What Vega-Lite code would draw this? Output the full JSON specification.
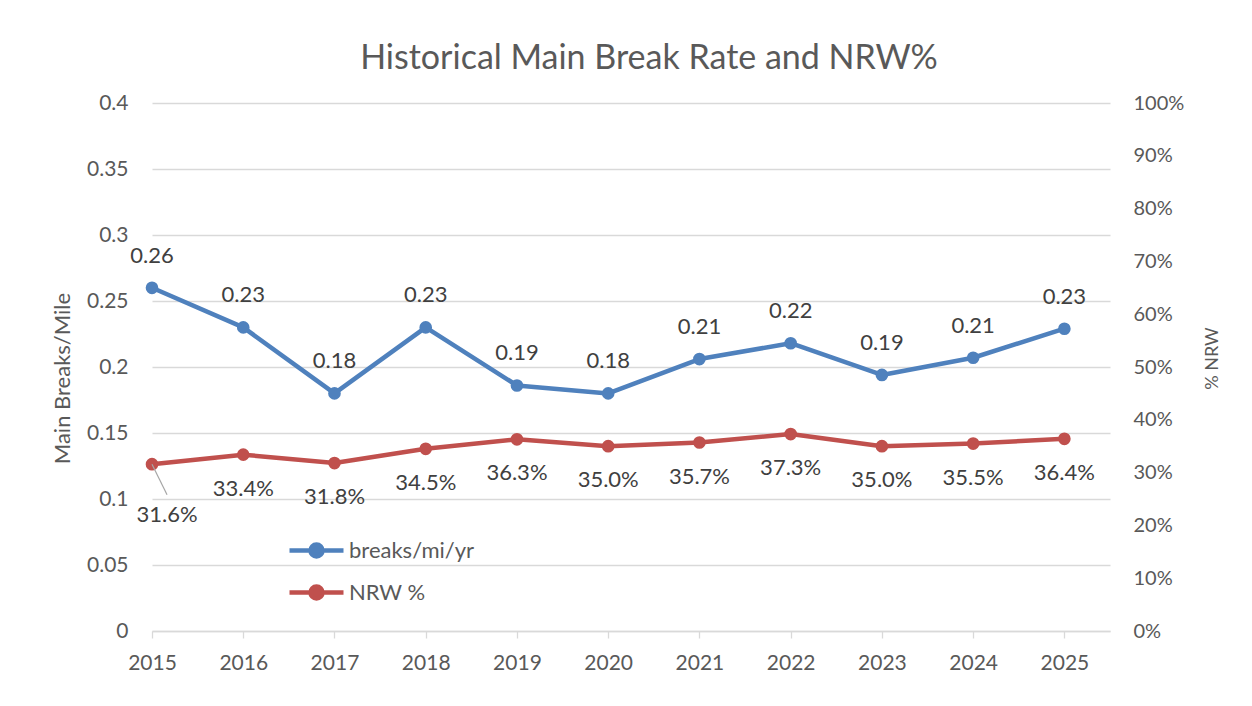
{
  "$schema": "https://vega.github.io/schema/vega-lite/v6.json",
  "width": 958,
  "height": 528,
  "autosize": {"type": "none"},
  "padding": {"left": 152, "top": 103, "right": 142, "bottom": 75},
  "background": "white",
  "title": {
    "text": "Historical Main Break Rate and NRW%",
    "font": "Lato",
    "fontSize": 34,
    "fontWeight": "normal",
    "color": "#595959",
    "anchor": "middle",
    "baseline": "alphabetic",
    "dx": 18,
    "dy": 31,
    "offset": 20
  },
  "config": {
    "font": "Lato",
    "view": {"stroke": null},
    "axis": {
      "labelFont": "Lato",
      "labelFontSize": 21,
      "labelColor": "#595959",
      "titleFont": "Lato",
      "titleFontSize": 22,
      "titleFontWeight": "normal",
      "titleColor": "#595959",
      "gridColor": "#D9D9D9",
      "gridWidth": 1.3,
      "domainColor": "#D9D9D9",
      "tickColor": "#D9D9D9"
    },
    "legend": {
      "labelFont": "Lato",
      "labelFontSize": 22,
      "labelColor": "#595959",
      "padding": 0
    }
  },
  "data": {
    "values": [
      {"year": 2015, "breaks": 0.260, "nrw": 0.316},
      {"year": 2016, "breaks": 0.230, "nrw": 0.334},
      {"year": 2017, "breaks": 0.180, "nrw": 0.318},
      {"year": 2018, "breaks": 0.230, "nrw": 0.345},
      {"year": 2019, "breaks": 0.186, "nrw": 0.363},
      {"year": 2020, "breaks": 0.180, "nrw": 0.350},
      {"year": 2021, "breaks": 0.206, "nrw": 0.357},
      {"year": 2022, "breaks": 0.218, "nrw": 0.373},
      {"year": 2023, "breaks": 0.194, "nrw": 0.350},
      {"year": 2024, "breaks": 0.207, "nrw": 0.355},
      {"year": 2025, "breaks": 0.229, "nrw": 0.364}
    ]
  },
  "layer": [
    {
      "encoding": {
        "x": {
          "field": "year",
          "type": "quantitative",
          "scale": {"domain": [2015, 2025.5], "nice": false, "zero": false},
          "axis": {
            "title": null,
            "values": [2015, 2016, 2017, 2018, 2019, 2020, 2021, 2022, 2023, 2024, 2025],
            "format": "d",
            "grid": false,
            "domain": true,
            "domainWidth": 1.3,
            "ticks": true,
            "tickSize": 7,
            "tickWidth": 1.3,
            "labelFlush": false,
            "labelOverlap": false,
            "labelPadding": 14
          }
        },
        "y": {
          "field": "breaks",
          "type": "quantitative",
          "scale": {"domain": [0, 0.4], "nice": false},
          "axis": {
            "title": "Main Breaks/Mile",
            "titleY": 275,
            "values": [0, 0.05, 0.1, 0.15, 0.2, 0.25, 0.3, 0.35, 0.4],
            "format": "~g",
            "grid": true,
            "domain": false,
            "ticks": false,
            "labelPadding": 24,
            "titlePadding": 12
          }
        }
      },
      "layer": [
        {
          "mark": {
            "type": "line",
            "strokeWidth": 4.5,
            "strokeCap": "round",
            "strokeJoin": "round",
            "point": {"filled": true, "size": 160, "opacity": 1}
          },
          "encoding": {
            "color": {
              "datum": "breaks/mi/yr",
              "scale": {"domain": ["breaks/mi/yr", "NRW %"], "range": ["#4F81BD", "#C0504D"]},
              "legend": {
                "title": null,
                "orient": "none",
                "legendX": 153,
                "legendY": 436,
                "symbolType": "M-3,0H3M0.667,0A0.667,0.667,0,1,1,-0.667,0A0.667,0.667,0,1,1,0.667,0Z",
                "symbolSize": 324,
                "symbolStrokeWidth": 4.5,
                "labelOffset": 21,
                "rowPadding": 11,
                "encode": {
                  "symbols": {
                    "update": {
                      "fill": {"scale": "color", "field": "value"},
                      "stroke": {"scale": "color", "field": "value"},
                      "opacity": {"value": 1},
                      "fillOpacity": {"value": 1},
                      "strokeOpacity": {"value": 1}
                    }
                  }
                }
              }
            }
          }
        },
        {
          "mark": {"type": "text", "dy": -32, "fontSize": 22, "font": "Lato", "color": "#404040"},
          "encoding": {
            "text": {"field": "breaks", "type": "quantitative", "format": ".2f"}
          }
        }
      ]
    },
    {
      "encoding": {
        "x": {"field": "year", "type": "quantitative"},
        "y": {
          "field": "nrw",
          "type": "quantitative",
          "scale": {"domain": [0, 1], "nice": false},
          "axis": {
            "orient": "right",
            "title": "% NRW",
            "titleAngle": 270,
            "titleFontSize": 18,
            "titleY": 255,
            "labelFontSize": 20,
            "values": [0, 0.1, 0.2, 0.3, 0.4, 0.5, 0.6, 0.7, 0.8, 0.9, 1],
            "format": ".0%",
            "grid": false,
            "domain": false,
            "ticks": false,
            "labelPadding": 23,
            "titlePadding": 38
          }
        }
      },
      "layer": [
        {
          "mark": {
            "type": "line",
            "strokeWidth": 4.5,
            "strokeCap": "round",
            "strokeJoin": "round",
            "point": {"filled": true, "size": 160, "opacity": 1}
          },
          "encoding": {
            "color": {"datum": "NRW %"}
          }
        },
        {
          "transform": [{"filter": "datum.year == 2015"}],
          "mark": {"type": "rule", "color": "#A6A6A6", "strokeWidth": 1.2},
          "encoding": {
            "x2": {"datum": 2015.165},
            "y2": {"datum": 0.258}
          }
        },
        {
          "transform": [{"filter": "datum.year != 2015"}],
          "mark": {"type": "text", "dy": 34, "fontSize": 22, "font": "Lato", "color": "#404040"},
          "encoding": {
            "text": {"field": "nrw", "type": "quantitative", "format": ".1%"}
          }
        },
        {
          "transform": [{"filter": "datum.year == 2015"}],
          "mark": {"type": "text", "dx": 15, "dy": 51, "fontSize": 22, "font": "Lato", "color": "#404040"},
          "encoding": {
            "text": {"field": "nrw", "type": "quantitative", "format": ".1%"}
          }
        }
      ]
    }
  ],
  "resolve": {"scale": {"y": "independent"}}
}
